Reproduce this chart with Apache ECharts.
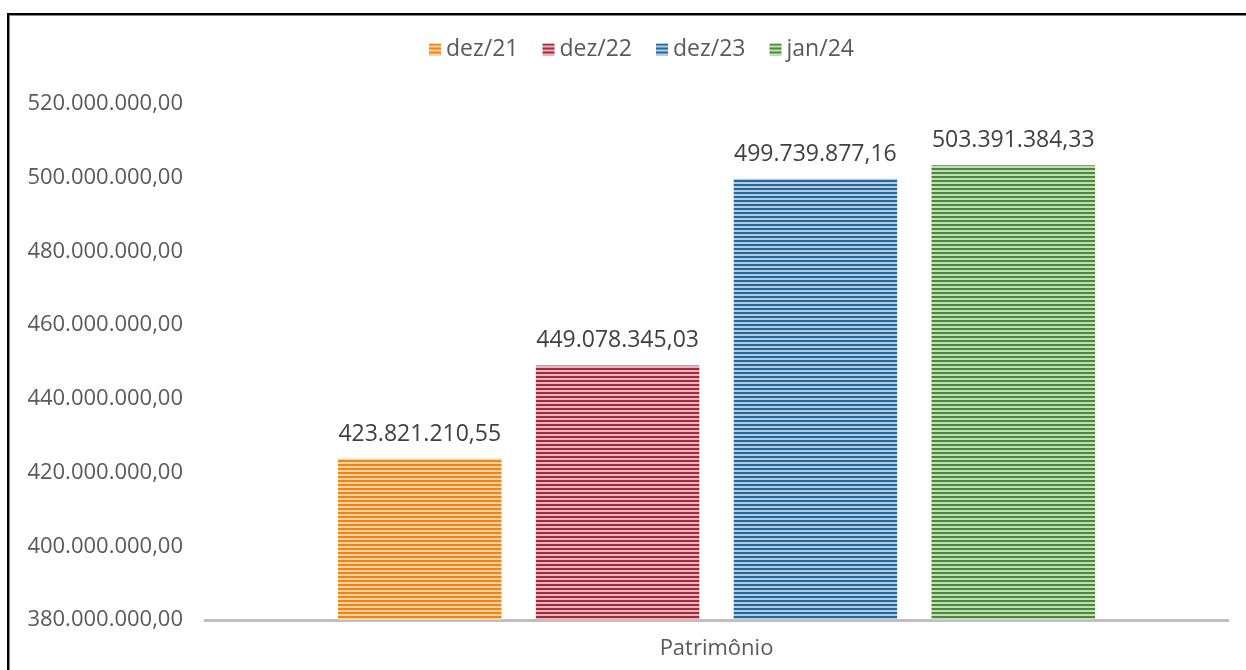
<!DOCTYPE html>
<html>
<head>
<meta charset="utf-8">
<script src="https://cdn.jsdelivr.net/npm/echarts@6/dist/echarts.min.js"></script>
<style>
html,body{margin:0;padding:0;background:#fff;overflow:hidden;}
#frame{position:absolute;left:7px;top:13px;width:1300px;height:700px;border-left:2px solid #000;border-top:2px solid #000;box-shadow:1px 1px 0 #888 inset;}
#chart{position:absolute;left:0;top:0;width:1246px;height:670px;}
</style>
</head>
<body>
<div id="frame"></div>
<div id="chart"></div>
<script>
const categories = ['Patrimônio'];
const seriesNames = ['dez/21', 'dez/22', 'dez/23', 'jan/24'];
const values = [423821210.55, 449078345.03, 499739877.16, 503391384.33];
const darkColors = ['#F0850F', '#A32A3B', '#27699B', '#4A8A3A'];
const lightColors = ['#FBD3A6', '#E8B5BC', '#B3CCE2', '#C3DDB8'];

function fmt(v, dec) {
  const fixed = Math.abs(v).toFixed(dec);
  let [i, d] = fixed.split('.');
  i = i.replace(/\B(?=(\d{3})+(?!\d))/g, '.');
  return (v < 0 ? '-' : '') + i + (d ? ',' + d : '');
}

function stripe(dark, light) {
  const c = document.createElement('canvas');
  c.width = 4; c.height = 4;
  const ctx = c.getContext('2d');
  ctx.fillStyle = light; ctx.fillRect(0, 0, 4, 4);
  ctx.fillStyle = dark; ctx.fillRect(0, 0, 4, 2);
  return c;
}

const chart = echarts.init(document.getElementById('chart'), null, {renderer: 'canvas'});
const font = '"Open Sans", "Noto Sans", sans-serif';
chart.setOption({
  animation: false,
  textStyle: {fontFamily: font},
  legend: {
    top: 33, left: 424,
    itemWidth: 12, itemHeight: 12, itemGap: 24,
    icon: 'rect',
    textStyle: {fontSize: 23, color: '#595959', fontFamily: font}
  },
  grid: {left: 205, right: 18, top: 104, bottom: 50, containLabel: false},
  xAxis: {
    type: 'category', data: categories,
    axisLine: {lineStyle: {color: '#BFBFBF', width: 3}},
    axisTick: {show: false},
    axisLabel: {fontSize: 22, color: '#595959', margin: 18}
  },
  yAxis: {
    type: 'value', min: 380000000, max: 520000000, interval: 20000000,
    splitLine: {show: false}, axisLine: {show: false}, axisTick: {show: false},
    axisLabel: {fontSize: 22, color: '#595959', margin: 22, formatter: v => fmt(v, 2)}
  },
  series: seriesNames.map((n, i) => ({
    name: n, type: 'bar',
    data: [values[i]],
    barGap: '21%', barCategoryGap: '26%',
    itemStyle: {color: {image: stripe(darkColors[i], lightColors[i]), repeat: 'repeat'}},
    label: {show: true, position: 'top', distance: 13, fontSize: 23, color: '#404040', fontFamily: font,
      formatter: p => fmt(p.value, 2)}
  }))
});
</script>
</body>
</html>
